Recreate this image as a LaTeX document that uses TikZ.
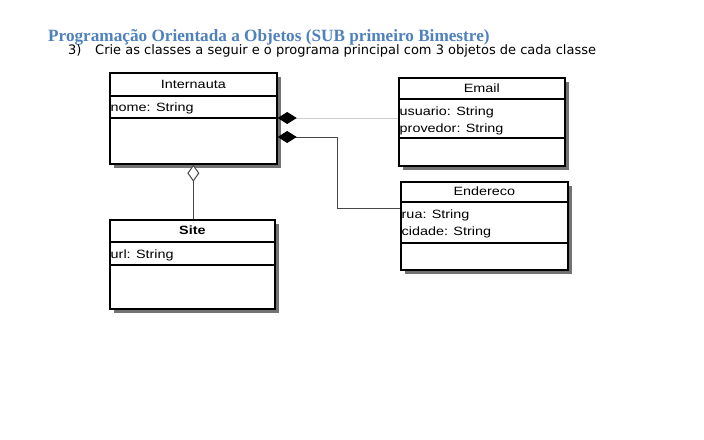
\documentclass[tikz,border=0pt]{standalone}
\usepackage{fontspec}
\setmainfont{Liberation Sans}
\newfontfamily\titlefont{Liberation Serif}
\newfontfamily\subfont{DejaVu Sans}
\newfontfamily\umlfont[FakeStretch=1.2]{Liberation Sans}
\usetikzlibrary{arrows.meta,calc}
\definecolor{titleblue}{RGB}{79,129,189}
\definecolor{shadowgray}{RGB}{115,115,115}
\definecolor{lightline}{RGB}{205,205,205}
\definecolor{darkline}{RGB}{70,70,70}
\begin{document}
\begin{tikzpicture}[x=1pt,y=-1pt,
  box/.style={draw=black, line width=1.7pt, fill=white, inner sep=0pt, anchor=north west},
  divider/.style={draw=black, line width=1.2pt},
  headtext/.style={font=\umlfont\fontsize{12}{14}\selectfont, inner sep=0pt, anchor=center},
  attrtext/.style={font=\umlfont\fontsize{12}{14}\selectfont, inner sep=0pt, anchor=base west},
  assoc/.style={line width=1pt},
  comp/.style={-{Diamond[length=19pt,width=12pt,color=black,fill=black]}},
  aggr/.style={-{Diamond[open,fill=white,color=darkline,length=17pt,width=12pt]}}
]
\useasboundingbox (0,0) rectangle (704,439);

% title
\node[anchor=base west, inner sep=0pt, text=titleblue,
      font=\titlefont\bfseries\fontsize{17.2}{19}\selectfont] (title) at (48,41)
  {Programação Orientada a Objetos (SUB primeiro Bimestre)};
\node[anchor=base west, inner sep=0pt, font=\subfont\fontsize{13}{15}\selectfont] (num) at (68,54) {3)};
\node[anchor=base west, inner sep=0pt, font=\subfont\fontsize{13}{15}\selectfont] (sub) at (95,54)
  {Crie as classes a seguir e o programa principal com 3 objetos de cada classe};

% shadows
\fill[shadowgray] (114,77) rectangle (281,168);
\fill[shadowgray] (403,82) rectangle (569,170);
\fill[shadowgray] (405,186) rectangle (572,274);
\fill[shadowgray] (114,224) rectangle (279,313);

% Internauta
\node[box, minimum width=167pt, minimum height=91pt] (int) at (109,72) {};
\draw[divider] ($(int.north west)+(0,24)$) -- ($(int.north east)+(0,24)$);
\draw[divider] ($(int.north west)+(0,46)$) -- ($(int.north east)+(0,46)$);
\node[headtext] (intn) at ($(int.north)+(0,12.5)$) {Internauta};
\node[attrtext] (inta) at ($(int.north west)+(1.5,39.5)$) {nome: String};

% Email
\node[box, minimum width=166pt, minimum height=88pt] (ema) at (398,77) {};
\draw[divider] ($(ema.north west)+(0,22)$) -- ($(ema.north east)+(0,22)$);
\draw[divider] ($(ema.north west)+(0,61)$) -- ($(ema.north east)+(0,61)$);
\node[headtext] (eman) at ($(ema.north)+(0,11)$) {Email};
\node[attrtext] (emaa) at ($(ema.north west)+(1.5,38)$) {usuario: String};
\node[attrtext] (emab) at ($(ema.north west)+(1.5,55)$) {provedor: String};

% Endereco
\node[box, minimum width=167pt, minimum height=88pt] (end) at (400,181) {};
\draw[divider] ($(end.north west)+(0,21)$) -- ($(end.north east)+(0,21)$);
\draw[divider] ($(end.north west)+(0,62)$) -- ($(end.north east)+(0,62)$);
\node[headtext] (endn) at ($(end.north)+(0,10.5)$) {Endereco};
\node[attrtext] (enda) at ($(end.north west)+(1.5,37)$) {rua: String};
\node[attrtext] (endb) at ($(end.north west)+(1.5,54)$) {cidade: String};

% Site
\node[box, minimum width=165pt, minimum height=89pt] (site) at (109,219) {};
\draw[divider] ($(site.north west)+(0,23)$) -- ($(site.north east)+(0,23)$);
\draw[divider] ($(site.north west)+(0,46)$) -- ($(site.north east)+(0,46)$);
\node[headtext, font=\umlfont\bfseries\fontsize{12}{14}\selectfont] (siten) at ($(site.north)+(0,11.5)$) {Site};
\node[attrtext] (sitea) at ($(site.north west)+(1.5,39)$) {url: String};

% connectors
\draw[assoc, draw=lightline, comp]
  ($(ema.north west)+(0,41)$) -- ($(int.north east)+(0,46)$);
\coordinate (bend) at (337,137);
\draw[assoc, draw=darkline, comp]
  ($(end.north west)+(0,27)$) -| (bend) -- ($(int.north east)+(0,65)$);
\draw[assoc, draw=darkline, aggr] (site.north -| int.south) -- (int.south);
\end{tikzpicture}
\end{document}
